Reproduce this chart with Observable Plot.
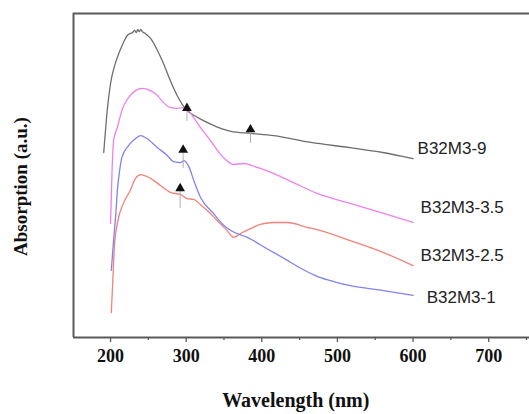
<!DOCTYPE html>
<html>
<head>
<meta charset="utf-8">
<script src="https://cdn.jsdelivr.net/npm/d3@7"></script>
<script src="https://cdn.jsdelivr.net/npm/@observablehq/plot@0.6"></script>
<style>
  html, body { margin: 0; padding: 0; background: #fff; }
</style>
</head>
<body>
<div id="chart"></div>
<script>
// UV-Vis absorption spectra of the B32M3 samples (arbitrary units)
const seriesNames = ["B32M3-9", "B32M3-3.5", "B32M3-2.5", "B32M3-1"];
const seriesColors = ["#6e6e6e", "#ee80ee", "#f2837a", "#8282ee"];

const wl9 = [191, 196, 200, 205, 211, 217, 222, 226, 229, 232, 234, 236, 238, 240, 242, 246, 253, 262, 270, 279, 288, 301, 310, 319, 336, 350, 359, 385, 416, 465, 517, 560, 600];
const abs9 = [0.571, 0.710, 0.784, 0.836, 0.877, 0.910, 0.932, 0.938, 0.941, 0.948, 0.941, 0.951, 0.944, 0.951, 0.944, 0.938, 0.923, 0.886, 0.846, 0.793, 0.747, 0.701, 0.686, 0.674, 0.655, 0.642, 0.636, 0.630, 0.623, 0.602, 0.586, 0.571, 0.552];

const wl35 = [200, 202, 204, 209, 215, 224, 233, 242, 253, 262, 270, 279, 288, 299, 308, 319, 332, 349, 363, 376, 394, 416, 442, 474, 517, 561, 600];
const abs35 = [0.352, 0.515, 0.608, 0.648, 0.701, 0.741, 0.762, 0.769, 0.762, 0.747, 0.725, 0.710, 0.707, 0.710, 0.685, 0.648, 0.608, 0.556, 0.534, 0.537, 0.525, 0.506, 0.478, 0.444, 0.414, 0.383, 0.355];

const wl25 = [201, 203, 205, 209, 217, 226, 233, 240, 248, 257, 266, 279, 293, 301, 310, 319, 328, 341, 354, 363, 372, 385, 398, 416, 434, 460, 473, 517, 561, 600];
const abs25 = [0.077, 0.176, 0.278, 0.352, 0.414, 0.454, 0.491, 0.503, 0.497, 0.485, 0.469, 0.448, 0.441, 0.429, 0.426, 0.410, 0.392, 0.361, 0.330, 0.309, 0.321, 0.336, 0.349, 0.355, 0.355, 0.340, 0.333, 0.299, 0.262, 0.222];

const wl1 = [201, 204, 207, 209, 212, 215, 224, 233, 240, 248, 262, 275, 283, 293, 297, 304, 310, 319, 336, 350, 359, 381, 407, 431, 452, 474, 496, 517, 561, 600];
const abs1 = [0.207, 0.299, 0.383, 0.454, 0.515, 0.556, 0.593, 0.614, 0.623, 0.614, 0.586, 0.562, 0.543, 0.540, 0.546, 0.525, 0.485, 0.432, 0.383, 0.346, 0.330, 0.309, 0.274, 0.242, 0.213, 0.188, 0.172, 0.160, 0.145, 0.130];

// end-of-line labels
const labelX = [606, 610, 610, 618];
const labelY = [0.583, 0.401, 0.253, 0.123];

// arrow markers pointing at the absorption shoulders
const arrowX = [301, 385, 296, 292];
const arrowHead = [0.708, 0.642, 0.579, 0.460];
const arrowTail1 = [0.698, 0.630, 0.568, 0.454];
const arrowTail2 = [0.667, 0.599, 0.522, 0.398];

const majorTicks = [200, 300, 400, 500, 600, 700];
const minorTicks = [250, 350, 450, 550, 650, 750];

const series = [
  {name: seriesNames[0], wl: wl9, abs: abs9},
  {name: seriesNames[1], wl: wl35, abs: abs35},
  {name: seriesNames[2], wl: wl25, abs: abs25},
  {name: seriesNames[3], wl: wl1, abs: abs1}
];
const points = series.flatMap(s => s.wl.map((w, i) => ({series: s.name, wl: w, abs: s.abs[i]})));
const labels = seriesNames.map((n, i) => ({name: n, x: labelX[i], y: labelY[i]}));
const arrows = arrowX.map((x, i) => ({x, head: arrowHead[i], t1: arrowTail1[i], t2: arrowTail2[i]}));

const frameColor = "#5a5a5a";
const xDomain = [151, 754];

const chart = Plot.plot({
  width: 529,
  height: 414,
  marginLeft: 73,
  marginRight: 0,
  marginTop: 13,
  marginBottom: 77,
  style: {fontFamily: "'Liberation Serif', 'Times New Roman', serif", fontWeight: "bold", fontSize: "18px", color: "#111", background: "#fff"},
  x: {domain: xDomain},
  y: {domain: [0, 1]},
  color: {domain: seriesNames, range: seriesColors},
  marks: [
    Plot.axisX({ticks: majorTicks, tickSize: 5, tickPadding: 7, label: null, stroke: frameColor, fill: "#111", strokeWidth: 1.3}),
    Plot.axisX({ticks: minorTicks, tickSize: 3, tickFormat: () => "", label: null, stroke: frameColor, strokeWidth: 1.3}),
    Plot.axisY({ticks: [], label: null}),
    Plot.ruleY([0, 1], {stroke: frameColor, strokeWidth: 2}),
    Plot.ruleX([xDomain[0]], {y1: 0, y2: 1, stroke: frameColor, strokeWidth: 2}),
    Plot.line(points, {x: "wl", y: "abs", z: "series", stroke: "series", strokeWidth: 1.3, curve: "monotone-x"}),
    Plot.ruleX(arrows, {x: "x", y1: "t1", y2: "t2", stroke: "#b0b0b0", strokeWidth: 1}),
    Plot.dot(arrows, {x: "x", y: "head", symbol: "triangle", r: 3.6, fill: "#111", stroke: "none"}),
    Plot.text(labels, {x: "x", y: "y", text: "name", textAnchor: "start", fontFamily: "'Liberation Sans', Arial, sans-serif", fontWeight: "normal", fontSize: 17, fill: "#222", letterSpacing: "0.4px"}),
    // axis titles, placed in the margins below and left of the frame
    Plot.text(["Wavelength (nm)"], {x: 445, y: -0.196, fontSize: 20, fill: "#111"}),
    Plot.text(["Absorption (a.u.)"], {x: 82, y: 0.466, rotate: -90, fontSize: 19, fill: "#111"})
  ]
});

document.getElementById("chart").appendChild(chart);
</script>
</body>
</html>
